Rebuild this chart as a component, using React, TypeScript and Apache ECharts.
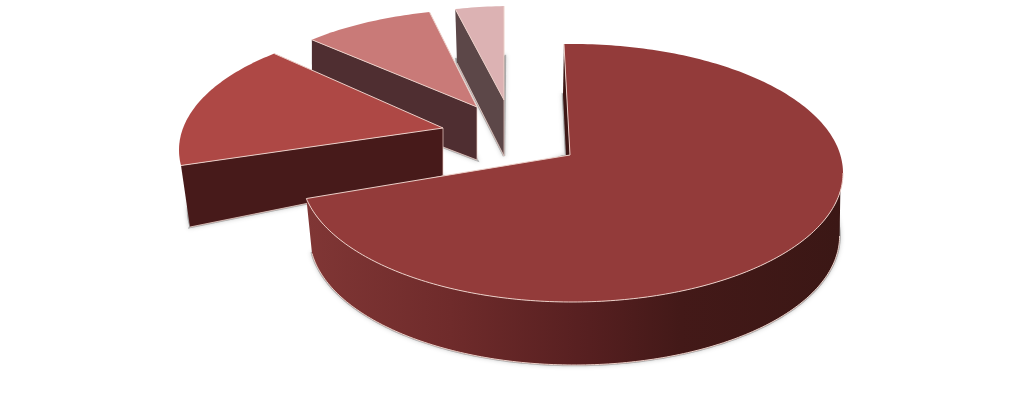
import React, { useEffect, useRef } from "react";
import * as echarts from "echarts";

const categories = ["Slice A", "Slice B", "Slice C", "Slice D"];
const values = [72.3, 16.0, 8.5, 3.2];

const topColors = ["#933b3a", "#ae4845", "#c97a78", "#dcb2b3"];
const faceColors = ["#3d1715", "#471a1a", "#4f2e31", "#5c4748"];
const EDGE = "#eccfc8";

type Pt = number[];
const layout: any[] = [
  {
    top: { cx: 572, cy: 173, rx: 271, ry: 129, rot: -1.7 },
    base: { cx: 574.6, cy: 236, rx: 265, ry: 129, rot: 2 },
    apex: [570, 155], baseApex: [566, 155], baseStart: [563, 95],
    wall: { topFrom: 98, baseFrom: 90 },
  },
  {
    top: { cx: 441, cy: 150, rx: 262, ry: 125, rot: 2.6 },
    base: { cx: 450, cy: 210, rx: 262, ry: 118, rot: 1.9 },
    apex: [443, 128], baseApex: [443, 176], baseStart: [190, 227],
  },
  {
    top: { cx: 490, cy: 117, rx: 255, ry: 108, rot: -2.2 },
    base: { cx: 490, cy: 170, rx: 255, ry: 108, rot: -2.2 },
    apex: [477, 107], baseApex: [477, 160], baseStart: [312, 97],
  },
  {
    top: { cx: 513.8, cy: 111, rx: 245, ry: 105, rot: -2.3 },
    base: { cx: 514.8, cy: 161, rx: 245, ry: 105, rot: -2.3 },
    apex: [504, 100], baseApex: [504, 156], baseStart: [457, 63],
  },
];

const total = values.reduce((a, b) => a + b, 0);
const sweepOf = (v: number) => (v / total) * 360;

function rimPoint(e: any, deg: number): Pt {
  const t = (deg * Math.PI) / 180;
  return [e.cx + e.rx * Math.sin(t), e.cy - e.ry * Math.cos(t)];
}
function arc(e: any, from: number, to: number): Pt[] {
  const n = Math.max(4, Math.ceil(Math.abs(to - from)));
  const pts: Pt[] = [];
  for (let i = 0; i <= n; i++) pts.push(rimPoint(e, from + ((to - from) * i) / n));
  return pts;
}

function renderSlice(_params: any, api: any) {
  const i = api.value(0) as number;
  const v = api.value(1) as number;
  const l = layout[i];
  let cum = 0;
  for (let k = 0; k < i; k++) cum += sweepOf(values[k]);
  const sweep = sweepOf(v);
  const s = cum + l.top.rot;
  const e = s + sweep;
  const bs = cum + l.base.rot;
  const be = bs + sweep;
  const rimStart = rimPoint(l.top, s);
  const rimEnd = rimPoint(l.top, e);
  const children: any[] = [];

  // cast shadow of the base
  children.push({
    type: "polygon",
    shape: { points: [l.baseApex, l.baseStart, ...arc(l.base, bs, be)] },
    style: {
      fill: "rgba(120,120,120,0.55)",
      stroke: "rgba(120,120,120,0.55)",
      lineWidth: 2.5,
      shadowBlur: 4,
      shadowColor: "rgba(0,0,0,0.3)",
    },
  });

  if (i === 0) {
    // inner cut face beside the top edge
    children.push({
      type: "polygon",
      shape: { points: [rimStart, l.apex, l.baseApex, l.baseStart] },
      style: { fill: faceColors[0] },
    });
    // outer wall
    const topArc = arc(l.top, l.wall.topFrom, e);
    const baseArc = arc(l.base, l.wall.baseFrom, be).reverse();
    children.push({
      type: "polygon",
      shape: { points: [...topArc, ...baseArc] },
      style: {
        fill: new echarts.graphic.LinearGradient(0, 0, 1, 0, [
          { offset: 0, color: "#803635" },
          { offset: 0.27, color: "#6f2b2b" },
          { offset: 0.53, color: "#561f20" },
          { offset: 0.7, color: "#431918" },
          { offset: 1, color: "#3b1715" },
        ]),
      },
    });
    children.push({
      type: "polyline",
      shape: { points: baseArc },
      style: { fill: "none", stroke: EDGE, lineWidth: 1 },
    });
  } else {
    children.push({
      type: "polygon",
      shape: { points: [rimStart, l.apex, l.baseApex, l.baseStart] },
      style: { fill: faceColors[i] },
    });
    children.push({
      type: "polyline",
      shape: { points: [l.baseStart, l.baseApex] },
      style: { fill: "none", stroke: EDGE, lineWidth: 1, opacity: 0.8 },
    });
    children.push({
      type: "polyline",
      shape: { points: [l.apex, l.baseApex] },
      style: { fill: "none", stroke: EDGE, lineWidth: 1, opacity: 0.7 },
    });
  }

  // top face
  children.push({
    type: "polygon",
    shape: { points: [l.apex, ...arc(l.top, s, e)] },
    style: { fill: topColors[i] },
  });

  // light edges
  if (i === 0) {
    children.push({
      type: "polyline",
      shape: { points: [...arc(l.top, l.wall.topFrom - 8, e), l.apex, rimStart] },
      style: { fill: "none", stroke: EDGE, lineWidth: 1 },
    });
  } else {
    children.push({
      type: "polyline",
      shape: { points: [rimStart, l.apex, rimEnd] },
      style: { fill: "none", stroke: EDGE, lineWidth: 1 },
    });
  }
  return { type: "group", children };
}

export default function App() {
  const ref = useRef<HTMLDivElement>(null);
  useEffect(() => {
    if (!ref.current) return;
    const chart = echarts.init(ref.current, undefined, { renderer: "svg" });
    // drawn back to front
    const order = values.map((_, i) => i).reverse();
    chart.setOption({
      animation: false,
      backgroundColor: "#ffffff",
      series: [
        {
          type: "custom",
          coordinateSystem: "none",
          renderItem: renderSlice,
          silent: true,
          data: order.map((i) => ({ name: categories[i], value: [i, values[i]] })),
        },
      ],
    });
    return () => chart.dispose();
  }, []);
  return (
    <div
      ref={ref}
      style={{ position: "fixed", left: 0, top: 0, width: 1023, height: 405, background: "#fff" }}
    />
  );
}
